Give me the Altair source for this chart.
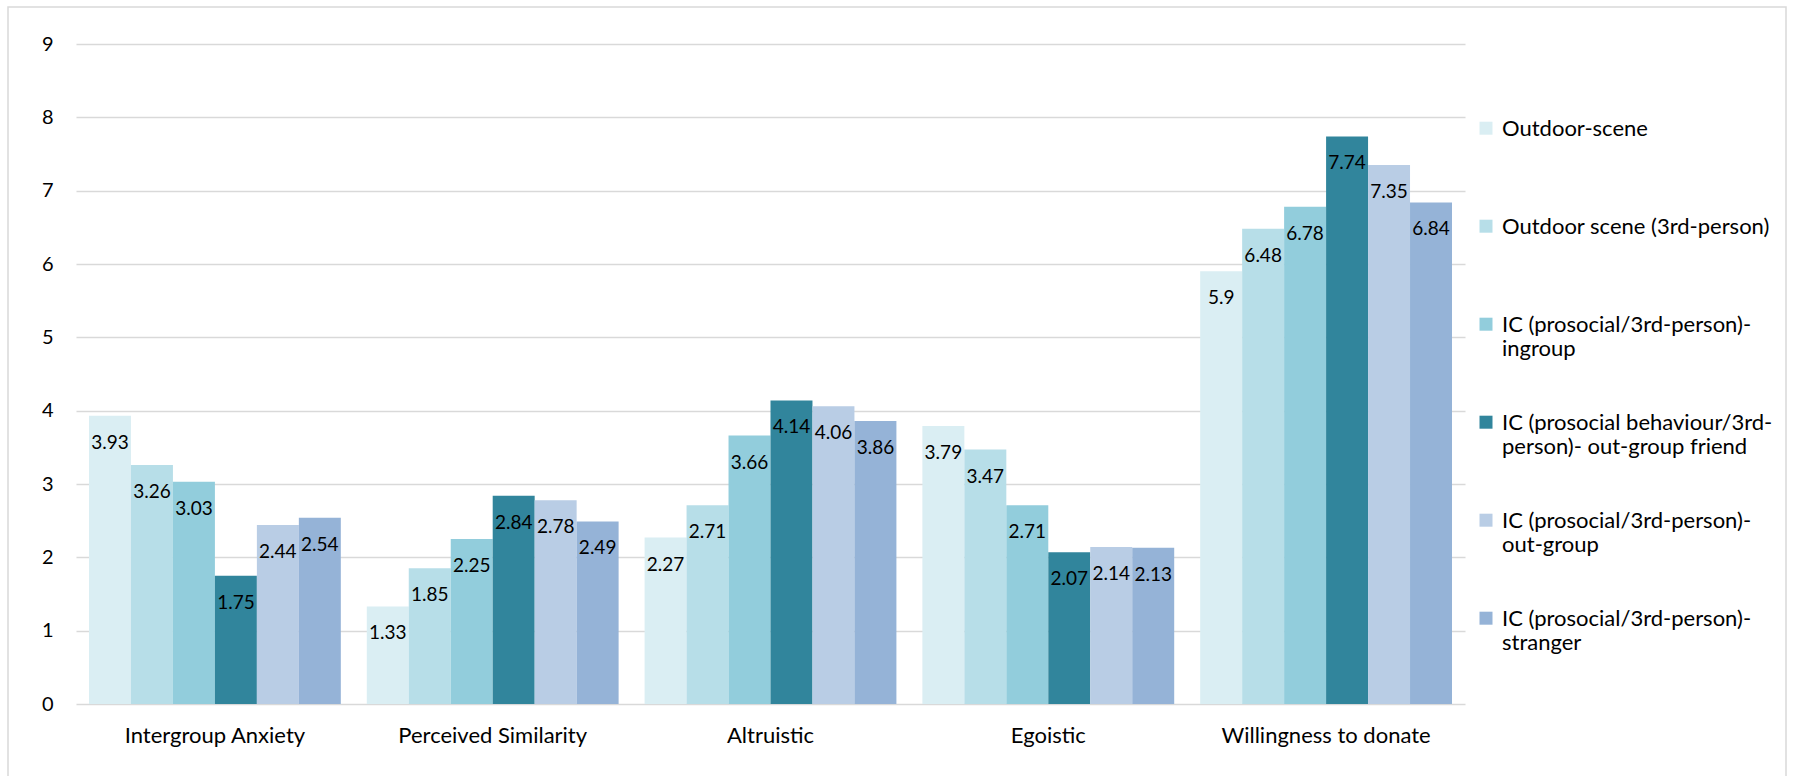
import json
import altair as alt
import pandas as pd

categories = ["Intergroup Anxiety", "Perceived Similarity", "Altruistic", "Egoistic", "Willingness to donate"]
series = [
    "Outdoor-scene",
    "Outdoor scene (3rd-person)",
    "IC (prosocial/3rd-person)-ingroup",
    "IC (prosocial behaviour/3rd-person)- out-group friend",
    "IC (prosocial/3rd-person)-out-group",
    "IC (prosocial/3rd-person)-stranger",
]
legend_lines = [
    ["Outdoor-scene", " "],
    ["Outdoor scene (3rd-person)", " "],
    ["IC (prosocial/3rd-person)-", "ingroup"],
    ["IC (prosocial behaviour/3rd-", "person)- out-group friend"],
    ["IC (prosocial/3rd-person)-", "out-group"],
    ["IC (prosocial/3rd-person)-", "stranger"],
]
colors = ["#DAEEF3", "#B7DEE8", "#92CDDC", "#31859C", "#B9CDE5", "#95B3D7"]

outdoor = [3.93, 1.33, 2.27, 3.79, 5.9]
outdoor_3rd = [3.26, 1.85, 2.71, 3.47, 6.48]
ic_ingroup = [3.03, 2.25, 3.66, 2.71, 6.78]
ic_friend = [1.75, 2.84, 4.14, 2.07, 7.74]
ic_outgroup = [2.44, 2.78, 4.06, 2.14, 7.35]
ic_stranger = [2.54, 2.49, 3.86, 2.13, 6.84]
y_ticks = [0, 1, 2, 3, 4, 5, 6, 7, 8, 9]

all_values = [outdoor, outdoor_3rd, ic_ingroup, ic_friend, ic_outgroup, ic_stranger]
rows = []
for s, vals in zip(series, all_values):
    for c, v in zip(categories, vals):
        rows.append({"category": c, "series": s, "value": v, "label": str(v)})
df = pd.DataFrame(rows)

expr = ""
for s, lines in zip(series, legend_lines):
    expr += f"datum.label === '{s}' ? {json.dumps(lines)} : "
expr += "datum.label"

FONT = "Lato"
PLOT_W, PLOT_H = 1389, 660
LEFT, TOP = 76, 44

x_enc = alt.X(
    "category:N",
    sort=categories,
    scale=alt.Scale(paddingInner=0.0935, paddingOuter=0.0468),
    axis=alt.Axis(title=None, labelAngle=0, labelFont=FONT, labelFontSize=22, labelColor="black",
                  labelPadding=21, labelLimit=400, domain=False, ticks=False, grid=False),
)
y_enc = alt.Y(
    "value:Q",
    scale=alt.Scale(domain=[0, 9], nice=False),
    axis=alt.Axis(title=None, values=y_ticks, format="d", labelFont=FONT, labelFontSize=20,
                  labelColor="black", labelPadding=23, domain=False, ticks=False, grid=True,
                  gridColor="#d9d9d9", gridWidth=1.4),
)
xoff = alt.XOffset("series:N", sort=series, scale=alt.Scale(domain=series, paddingInner=0, paddingOuter=0))

base = alt.Chart(df)

bars = base.mark_bar().encode(
    x=x_enc,
    xOffset=xoff,
    y=y_enc,
    color=alt.Color(
        "series:N",
        scale=alt.Scale(domain=series, range=colors),
        legend=alt.Legend(
            title=None, orient="none", legendX=1399, legendY=81, padding=0,
            symbolType="M-1,-2.2H1V-0.2H-1Z", symbolSize=169, symbolStrokeWidth=0,
            labelFont=FONT, labelFontSize=22, labelColor="black", labelOffset=5,
            labelBaseline="alphabetic", labelLimit=500, rowPadding=52, gridAlign="all",
            labelExpr=expr,
        ),
    ),
)

texts = base.mark_text(baseline="middle", dy=27, font=FONT, fontSize=19, color="black").encode(
    x=alt.X("category:N", sort=categories),
    xOffset=alt.XOffset("series:N", sort=series),
    y=alt.Y("value:Q"),
    text="label:N",
)

frame = alt.Chart(pd.DataFrame({"a": [0]})).mark_rect(fill="transparent", stroke="#d9d9d9", strokeWidth=1.5).encode(
    x=alt.value(8 - LEFT), x2=alt.value(1786 - LEFT),
    y=alt.value(7 - TOP), y2=alt.value(800 - TOP),
)

chart = alt.layer(frame, bars, texts).properties(
    width=PLOT_W, height=PLOT_H,
    autosize=alt.AutoSizeParams(type="none"),
    padding={"left": LEFT, "top": TOP, "right": 1796 - LEFT - PLOT_W, "bottom": 776 - TOP - PLOT_H},
    background="white",
).configure_view(strokeWidth=0)

chart.save("out.html", embed_options={"renderer": "svg", "actions": False})
